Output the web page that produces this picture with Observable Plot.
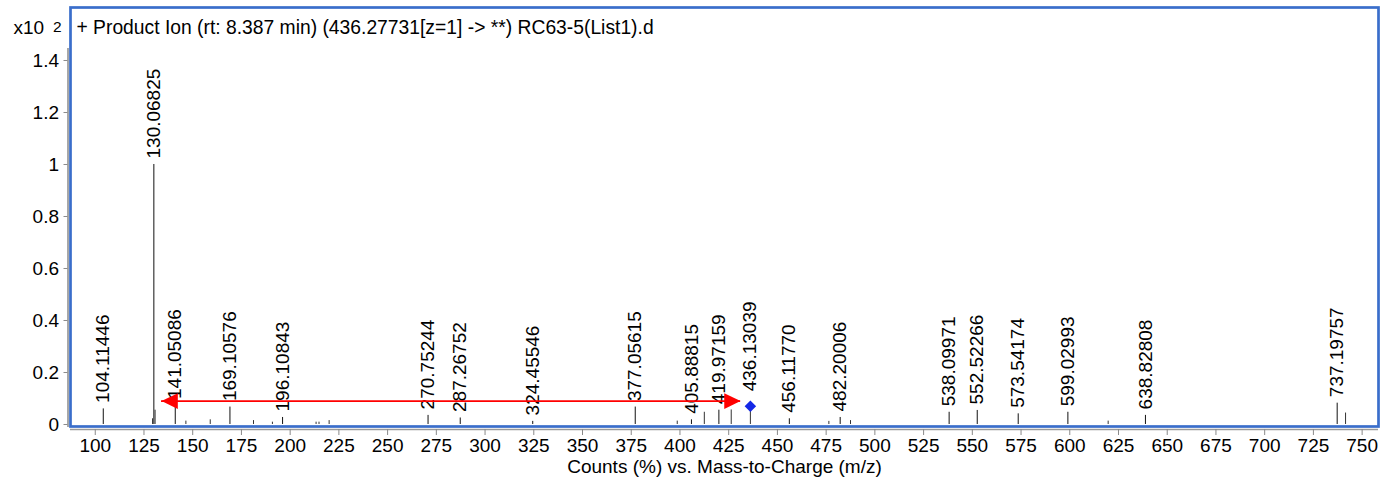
<!DOCTYPE html>
<html><head><meta charset="utf-8">
<script src="https://cdn.jsdelivr.net/npm/d3@7"></script>
<script src="https://cdn.jsdelivr.net/npm/@observablehq/plot@0.6"></script>
<style>
html,body{margin:0;padding:0;background:#fff;}
#chart svg{display:block;}
</style></head><body><div id="chart"></div>
<script>
// ---- data ----
const title = "+ Product Ion (rt: 8.387 min) (436.27731[z=1] -> **) RC63-5(List1).d";
const xLabel = "Counts (%) vs. Mass-to-Charge (m/z)";
const yUnitBase = "x10";
const yUnitExp = "2";

const labeledMz = ["104.11446","130.06825","141.05086","169.10576","196.10843","270.75244","287.26752","324.45546","377.05615","405.88815","419.97159","456.11770","482.20006","538.09971","552.52266","573.54174","599.02993","638.82808","737.19757"];
const labeledHeight = [0.06,1.0,0.075,0.067,0.027,0.035,0.025,0.012,0.067,0.018,0.055,0.022,0.027,0.047,0.054,0.041,0.047,0.035,0.082];

const precursorMz = ["436.13039"];
const precursorHeight = [0.07];

const minorMz = [129.4,130.7,146.5,159.0,181.2,190.9,213.3,214.8,220.0,398.6,412.5,426.3,476.4,487.5,619.7,741.5];
const minorHeight = [0.022,0.055,0.013,0.018,0.015,0.009,0.009,0.009,0.015,0.013,0.047,0.056,0.012,0.015,0.013,0.044];

const isolationFrom = 134.0;
const isolationTo = 431.1;
const isolationLevel = 0.09;

const xTicks = [100,125,150,175,200,225,250,275,300,325,350,375,400,425,450,475,500,525,550,575,600,625,650,675,700,725,750];
const yTicks = [0,0.2,0.4,0.6,0.8,1,1.2,1.4];

// ---- tables ----
const labeled = labeledMz.map((t,i)=>({mz:+t, h:labeledHeight[i], label:t}));
const precursor = precursorMz.map((t,i)=>({mz:+t, h:precursorHeight[i], label:t}));
const minor = minorMz.map((m,i)=>({mz:m, h:minorHeight[i]}));
const heads = [{mz:isolationFrom, rot:0},{mz:isolationTo, rot:180}];

const xDomain = [87.3, 758.4];
const yDomain = [-0.0077, 1.6038];
const yAxisTop = 1.446;

const arrowHead = { draw(ctx, size){ const l = Math.sqrt(size); ctx.moveTo(0,0); ctx.lineTo(l,-0.48*l); ctx.lineTo(l,0.48*l); ctx.closePath(); } };

const font = "'Liberation Sans', Arial, sans-serif";
const fs = 19;
const chart = Plot.plot({
  width: 1380, height: 477,
  marginLeft: 70, marginRight: 2, marginTop: 7, marginBottom: 51,
  x: {domain: xDomain},
  y: {domain: yDomain},
  style: {fontFamily: font, fontSize: fs + "px", color: "#000", background: "#fff"},
  marks: [
    Plot.ruleX(minor, {x:"mz", y1:0, y2:"h", stroke:"#333", strokeWidth:1}),
    Plot.ruleX(labeled, {x:"mz", y1:0, y2:"h", stroke:"#111", strokeWidth:1}),
    Plot.ruleX(precursor, {x:"mz", y1:0, y2:"h", stroke:"#333", strokeWidth:1}),
    Plot.text(labeled, {x:"mz", y:"h", text:"label", rotate:-90, textAnchor:"start", dy:-6, fill:"#000", fontSize:fs}),
    Plot.text(precursor, {x:"mz", y:"h", text:"label", rotate:-90, textAnchor:"start", dy:-15, fill:"#000", fontSize:fs}),
    Plot.ruleY([isolationLevel], {x1:isolationFrom, x2:isolationTo, stroke:"#ff0000", strokeWidth:1.7}),
    Plot.dot(heads, {x:"mz", y:()=>isolationLevel, symbol:()=>arrowHead, r:9.2, fill:"#ff0000", stroke:"none", rotate:"rot"}),
    Plot.dot(precursor, {x:"mz", y:"h", symbol:"diamond2", r:5.2, fill:"#1428e6", stroke:"none"}),
    Plot.frame({stroke:"#3a6ecb", strokeWidth:2.7}),
    Plot.ruleX([xDomain[0]], {y1:-0.0115, y2:yAxisTop, dx:-2.5, stroke:"#8a8a8a", strokeWidth:1.5}),
    Plot.ruleY([yDomain[0]], {dy:3, stroke:"#9a9a9a", strokeWidth:1.5}),
    Plot.axisY({ticks:yTicks, tickSize:4, tickPadding:5, dx:-2.5, stroke:"#8a8a8a", fill:"#000", label:null, tickFormat:d=>d===0?"0":String(+d.toFixed(1)), fontSize:fs}),
    Plot.axisX({ticks:xTicks, tickSize:6, tickPadding:3, dy:3, stroke:"#8a8a8a", fill:"#000", label:null, tickFormat:d=>String(d), fontSize:fs}),
    Plot.text([xLabel], {frameAnchor:"bottom", dy:40, lineAnchor:"middle", fill:"#000", fontSize:fs}),
    Plot.text([title], {frameAnchor:"top-left", dx:6, dy:19.9, lineAnchor:"middle", textAnchor:"start", fill:"#000", fontSize:19.3}),
    Plot.text([yUnitBase], {frameAnchor:"top-left", dx:-57, dy:20.2, lineAnchor:"middle", textAnchor:"start", fill:"#000", fontSize:fs}),
    Plot.text([yUnitExp], {frameAnchor:"top-left", dx:-17.5, dy:19.5, lineAnchor:"middle", textAnchor:"start", fill:"#000", fontSize:15.5})
  ]
});
document.getElementById("chart").appendChild(chart);
</script>
</body></html>
